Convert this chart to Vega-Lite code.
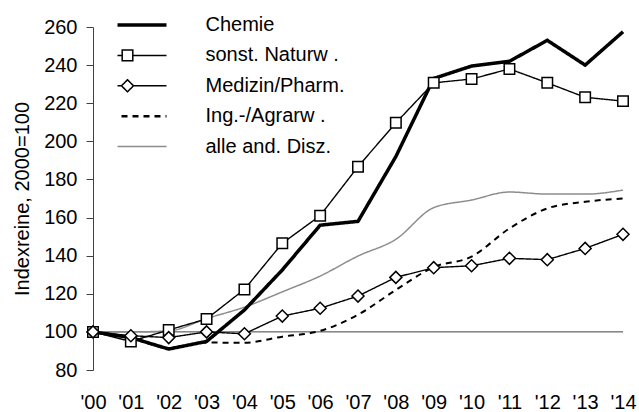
{
  "$schema": "https://vega.github.io/schema/vega-lite/v6.json",
  "width": 530,
  "height": 343,
  "autosize": "none",
  "padding": {"left": 93, "top": 27, "right": 16, "bottom": 42},
  "background": "white",
  "config": {
    "font": "Liberation Sans",
    "view": {"stroke": null},
    "axis": {"grid": false}
  },
  "data": {
    "values": [
      {"year": "'00", "series": "Chemie", "value": 100},
      {"year": "'01", "series": "Chemie", "value": 97},
      {"year": "'02", "series": "Chemie", "value": 91},
      {"year": "'03", "series": "Chemie", "value": 95},
      {"year": "'04", "series": "Chemie", "value": 111.5},
      {"year": "'05", "series": "Chemie", "value": 132.5},
      {"year": "'06", "series": "Chemie", "value": 156},
      {"year": "'07", "series": "Chemie", "value": 158},
      {"year": "'08", "series": "Chemie", "value": 192},
      {"year": "'09", "series": "Chemie", "value": 233},
      {"year": "'10", "series": "Chemie", "value": 239.5},
      {"year": "'11", "series": "Chemie", "value": 242},
      {"year": "'12", "series": "Chemie", "value": 253},
      {"year": "'13", "series": "Chemie", "value": 240},
      {"year": "'14", "series": "Chemie", "value": 257.5},
      {"year": "'00", "series": "sonst. Naturw .", "value": 100},
      {"year": "'01", "series": "sonst. Naturw .", "value": 95},
      {"year": "'02", "series": "sonst. Naturw .", "value": 101},
      {"year": "'03", "series": "sonst. Naturw .", "value": 106.8},
      {"year": "'04", "series": "sonst. Naturw .", "value": 122.3},
      {"year": "'05", "series": "sonst. Naturw .", "value": 146.5},
      {"year": "'06", "series": "sonst. Naturw .", "value": 161},
      {"year": "'07", "series": "sonst. Naturw .", "value": 186.7},
      {"year": "'08", "series": "sonst. Naturw .", "value": 209.7},
      {"year": "'09", "series": "sonst. Naturw .", "value": 230.7},
      {"year": "'10", "series": "sonst. Naturw .", "value": 232.7},
      {"year": "'11", "series": "sonst. Naturw .", "value": 238},
      {"year": "'12", "series": "sonst. Naturw .", "value": 230.7},
      {"year": "'13", "series": "sonst. Naturw .", "value": 223.1},
      {"year": "'14", "series": "sonst. Naturw .", "value": 221.1},
      {"year": "'00", "series": "Medizin/Pharm.", "value": 100},
      {"year": "'01", "series": "Medizin/Pharm.", "value": 98},
      {"year": "'02", "series": "Medizin/Pharm.", "value": 97},
      {"year": "'03", "series": "Medizin/Pharm.", "value": 100},
      {"year": "'04", "series": "Medizin/Pharm.", "value": 99},
      {"year": "'05", "series": "Medizin/Pharm.", "value": 108.3},
      {"year": "'06", "series": "Medizin/Pharm.", "value": 112.4},
      {"year": "'07", "series": "Medizin/Pharm.", "value": 118.8},
      {"year": "'08", "series": "Medizin/Pharm.", "value": 128.6},
      {"year": "'09", "series": "Medizin/Pharm.", "value": 133.7},
      {"year": "'10", "series": "Medizin/Pharm.", "value": 134.7},
      {"year": "'11", "series": "Medizin/Pharm.", "value": 138.6},
      {"year": "'12", "series": "Medizin/Pharm.", "value": 137.9},
      {"year": "'13", "series": "Medizin/Pharm.", "value": 143.8},
      {"year": "'14", "series": "Medizin/Pharm.", "value": 151.2},
      {"year": "'00", "series": "Ing.-/Agrarw .", "value": 100},
      {"year": "'01", "series": "Ing.-/Agrarw .", "value": 97},
      {"year": "'02", "series": "Ing.-/Agrarw .", "value": 91.5},
      {"year": "'03", "series": "Ing.-/Agrarw .", "value": 94.4},
      {"year": "'04", "series": "Ing.-/Agrarw .", "value": 94.3},
      {"year": "'05", "series": "Ing.-/Agrarw .", "value": 97.5},
      {"year": "'06", "series": "Ing.-/Agrarw .", "value": 100.5},
      {"year": "'07", "series": "Ing.-/Agrarw .", "value": 109},
      {"year": "'08", "series": "Ing.-/Agrarw .", "value": 122},
      {"year": "'09", "series": "Ing.-/Agrarw .", "value": 134},
      {"year": "'10", "series": "Ing.-/Agrarw .", "value": 139.5},
      {"year": "'11", "series": "Ing.-/Agrarw .", "value": 154.3},
      {"year": "'12", "series": "Ing.-/Agrarw .", "value": 164.8},
      {"year": "'13", "series": "Ing.-/Agrarw .", "value": 168.3},
      {"year": "'14", "series": "Ing.-/Agrarw .", "value": 170},
      {"year": "'00", "series": "alle and. Disz.", "value": 100},
      {"year": "'01", "series": "alle and. Disz.", "value": 100},
      {"year": "'02", "series": "alle and. Disz.", "value": 100.5},
      {"year": "'03", "series": "alle and. Disz.", "value": 107},
      {"year": "'04", "series": "alle and. Disz.", "value": 113},
      {"year": "'05", "series": "alle and. Disz.", "value": 121},
      {"year": "'06", "series": "alle and. Disz.", "value": 129.3},
      {"year": "'07", "series": "alle and. Disz.", "value": 139.8},
      {"year": "'08", "series": "alle and. Disz.", "value": 148.6},
      {"year": "'09", "series": "alle and. Disz.", "value": 165.2},
      {"year": "'10", "series": "alle and. Disz.", "value": 169.2},
      {"year": "'11", "series": "alle and. Disz.", "value": 173.4},
      {"year": "'12", "series": "alle and. Disz.", "value": 172.3},
      {"year": "'13", "series": "alle and. Disz.", "value": 172.3},
      {"year": "'14", "series": "alle and. Disz.", "value": 174.4}
    ]
  },
  "layer": [
    {
      "data": {"values": [{"ref": 100}]},
      "mark": {"type": "rule", "color": "#404040", "strokeWidth": 1},
      "encoding": {
        "y": {"field": "ref", "type": "quantitative", "scale": {"domain": [80, 260], "nice": false, "zero": false},
          "axis": {"title": "Indexreine, 2000=100", "values": [80, 100, 120, 140, 160, 180, 200, 220, 240, 260], "tickCount": 20, "labelOverlap": false, "labelBound": false, "labelFontSize": 20, "labelColor": "black", "labelFont": "Liberation Sans", "tickSize": 7, "tickColor": "#404040", "domainColor": "#404040", "labelPadding": 9, "titleFontSize": 20, "titleFontWeight": "normal", "titleColor": "black", "titleFont": "Liberation Sans", "titleX": -61, "titleY": 171.5, "titleAngle": -90, "titleAlign": "center", "titleBaseline": "bottom"}}
      }
    },
    {
      "transform": [{"filter": "datum.series === 'alle and. Disz.'"}],
      "mark": {"type": "line", "interpolate": "monotone", "strokeWidth": 1.5},
      "encoding": {
        "x": {"field": "year", "type": "ordinal", "sort": null, "scale": {"type": "point", "padding": 0},
          "axis": {"title": null, "labelAngle": 0, "domain": false, "ticks": false, "tickSize": 0, "labelPadding": 22, "labelFontSize": 20, "labelColor": "black", "labelFont": "Liberation Sans", "labelOverlap": false}},
        "y": {"field": "value", "type": "quantitative", "scale": {"domain": [80, 260], "nice": false, "zero": false},
          "axis": {"title": "Indexreine, 2000=100", "values": [80, 100, 120, 140, 160, 180, 200, 220, 240, 260], "tickCount": 20, "labelOverlap": false, "labelBound": false, "labelFontSize": 20, "labelColor": "black", "labelFont": "Liberation Sans", "tickSize": 7, "tickColor": "#404040", "domainColor": "#404040", "labelPadding": 9, "titleFontSize": 20, "titleFontWeight": "normal", "titleColor": "black", "titleFont": "Liberation Sans", "titleX": -61, "titleY": 171.5, "titleAngle": -90, "titleAlign": "center", "titleBaseline": "bottom"}},
        "color": {"field": "series", "type": "nominal",
          "scale": {"domain": ["Chemie", "sonst. Naturw .", "Medizin/Pharm.", "Ing.-/Agrarw .", "alle and. Disz."], "range": ["black", "black", "black", "black", "#8c8c8c"]},
          "legend": {"orient": "none", "legendX": 24.5, "legendY": -17, "title": null, "padding": 0, "symbolSize": 6084, "clipHeight": 30, "rowPadding": 0.4, "labelOffset": 68, "symbolOffset": 0, "labelFontSize": 20, "labelFont": "Liberation Sans", "labelColor": "black", "labelLimit": 300,
            "encoding": {"symbols": {
              "shape": {"value": {"expr": "datum.value === 'sonst. Naturw .' ? 'M-1,0H-0.136M0.136,0H1M-0.136,-0.136H0.136V0.136H-0.136Z' : datum.value === 'Medizin/Pharm.' ? 'M-1,0H-0.154M0.154,0H1M-0.154,0L0,-0.154L0.154,0L0,0.154Z' : 'M-1,0H1'"}},
              "strokeWidth": {"value": {"expr": "datum.value === 'Chemie' ? 3.5 : datum.value === 'Ing.-/Agrarw .' ? 2.5 : 1.5"}},
              "fill": {"value": "white"},
              "fillOpacity": {"value": 1}
            }}}},
        "strokeDash": {"field": "series", "type": "nominal",
          "scale": {"domain": ["Chemie", "sonst. Naturw .", "Medizin/Pharm.", "Ing.-/Agrarw .", "alle and. Disz."], "range": [[1, 0], [1, 0], [1, 0], [6, 5], [1, 0]]},
          "legend": {"orient": "none", "legendX": 24.5, "legendY": -17, "title": null, "padding": 0, "symbolSize": 6084, "clipHeight": 30, "rowPadding": 0.4, "labelOffset": 68, "symbolOffset": 0, "labelFontSize": 20, "labelFont": "Liberation Sans", "labelColor": "black", "labelLimit": 300}}
      }
    },
    {
      "transform": [{"filter": "datum.series === 'Ing.-/Agrarw .'"}],
      "mark": {"type": "line", "interpolate": "monotone", "strokeWidth": 2},
      "encoding": {
        "x": {"field": "year", "type": "ordinal", "sort": null},
        "y": {"field": "value", "type": "quantitative"},
        "color": {"field": "series", "type": "nominal"},
        "strokeDash": {"field": "series", "type": "nominal"}
      }
    },
    {
      "transform": [{"filter": "datum.series === 'sonst. Naturw .' || datum.series === 'Medizin/Pharm.'"}],
      "mark": {"type": "line", "strokeWidth": 1.4},
      "encoding": {
        "x": {"field": "year", "type": "ordinal", "sort": null},
        "y": {"field": "value", "type": "quantitative"},
        "color": {"field": "series", "type": "nominal"},
        "strokeDash": {"field": "series", "type": "nominal"}
      }
    },
    {
      "transform": [{"filter": "datum.series === 'Chemie'"}],
      "mark": {"type": "line", "strokeWidth": 3.5},
      "encoding": {
        "x": {"field": "year", "type": "ordinal", "sort": null},
        "y": {"field": "value", "type": "quantitative"},
        "color": {"field": "series", "type": "nominal"},
        "strokeDash": {"field": "series", "type": "nominal"}
      }
    },
    {
      "transform": [{"filter": "datum.series === 'sonst. Naturw .' || datum.series === 'Medizin/Pharm.'"}],
      "mark": {"type": "point", "filled": false, "fill": "white", "fillOpacity": 1, "stroke": "black", "strokeWidth": 1.5, "opacity": 1},
      "encoding": {
        "x": {"field": "year", "type": "ordinal", "sort": null},
        "y": {"field": "value", "type": "quantitative"},
        "shape": {"field": "series", "type": "nominal", "scale": {"domain": ["sonst. Naturw .", "Medizin/Pharm."], "range": ["square", "diamond"]}, "legend": null},
        "size": {"field": "series", "type": "nominal", "scale": {"type": "point", "domain": ["sonst. Naturw .", "Medizin/Pharm."], "range": [110, 144]}, "legend": null}
      }
    }
  ]
}
